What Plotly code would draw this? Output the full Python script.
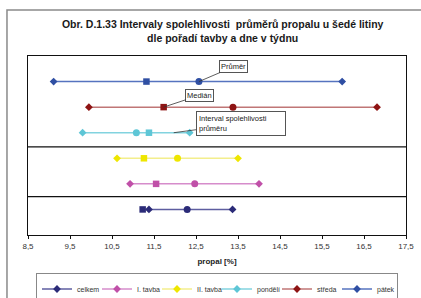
import plotly.graph_objects as go

# ---- data ----
series = ["celkem", "I. tavba", "II. tavba", "pondělí", "středa", "pátek"]
row_pos = [1, 2, 3, 4, 5, 6]
lower = [11.38, 10.93, 10.62, 9.80, 9.95, 9.11]
upper = [13.37, 14.00, 13.50, 12.35, 16.81, 15.98]
mean_vals = [12.29, 12.47, 12.06, 11.08, 13.38, 12.57]
median_vals = [11.23, 11.55, 11.26, 11.38, 11.73, 11.32]

marker_colors = ["#2B2B78", "#C050A8", "#EEE600", "#5EC6D6", "#8E1414", "#2F4FA3"]
line_colors = ["#5E5EA0", "#D68CCB", "#F3EE8C", "#82D3DF", "#C07676", "#5673BF"]

x_ticks = [8.5, 9.5, 10.5, 11.5, 12.5, 13.5, 14.5, 15.5, 16.5, 17.5]
x_tick_labels = ["8,5", "9,5", "10,5", "11,5", "12,5", "13,5", "14,5", "15,5", "16,5", "17,5"]
separators = [1.5, 3.45]
interval_note_x = 11.97

fig = go.Figure()

for i, name in enumerate(series):
    fig.add_trace(go.Scatter(
        x=[lower[i], upper[i]], y=[row_pos[i], row_pos[i]],
        mode="lines+markers", name=name,
        line=dict(color=line_colors[i], width=1.5),
        marker=dict(symbol="diamond", size=6, color=marker_colors[i]),
        showlegend=True,
    ))
    fig.add_trace(go.Scatter(
        x=[median_vals[i]], y=[row_pos[i]], mode="markers",
        marker=dict(symbol="square", size=6.5, color=marker_colors[i]),
        showlegend=False,
    ))
    fig.add_trace(go.Scatter(
        x=[mean_vals[i]], y=[row_pos[i]], mode="markers",
        marker=dict(symbol="circle", size=7, color=marker_colors[i]),
        showlegend=False,
    ))

shapes = []
for s in separators:
    shapes.append(dict(type="line", xref="paper", yref="y", x0=0, x1=1, y0=s, y1=s,
                       line=dict(color="#111111", width=1.3)))
# outer chart frame
shapes.append(dict(type="rect", xref="paper", yref="paper",
                   x0=-0.0556, x1=1.08, y0=-0.5, y1=1.257,
                   line=dict(color="#8a8a8a", width=1.5), layer="below"))
fig.update_layout(shapes=shapes)

ann_font = dict(family="Liberation Sans, Arial, sans-serif", size=7.5, color="#222222")
fig.add_annotation(x=mean_vals[5], y=row_pos[5], text="Průměr", showarrow=True,
                   arrowhead=0, arrowwidth=0.8, arrowcolor="#333333",
                   ax=35, ay=-15, font=ann_font, bgcolor="white",
                   bordercolor="#555555", borderwidth=1, borderpad=1, align="left")
fig.add_annotation(x=median_vals[4], y=row_pos[4], text="Medián", showarrow=True,
                   arrowhead=0, arrowwidth=0.8, arrowcolor="#333333",
                   ax=36, ay=-12, font=ann_font, bgcolor="white",
                   bordercolor="#555555", borderwidth=1, borderpad=1, align="left")
fig.add_annotation(x=interval_note_x, y=row_pos[3], text="Interval spolehlivosti<br>průměru",
                   showarrow=True, arrowhead=0, arrowwidth=0.8, arrowcolor="#333333",
                   ax=67, ay=-9, font=ann_font, bgcolor="white",
                   bordercolor="#555555", borderwidth=1, borderpad=2, align="left",
                   width=84)

fig.update_layout(
    width=421, height=298,
    margin=dict(l=28, r=15, t=56, b=63, autoexpand=False),
    paper_bgcolor="white", plot_bgcolor="white",
    font=dict(family="Liberation Sans, Arial, sans-serif", size=8, color="#333333"),
    title=dict(
        text="<b>Obr. D.1.33 Intervaly spolehlivosti  průměrů propalu u šedé litiny<br>dle pořadí tavby a dne v týdnu</b>",
        x=0.515, xanchor="center", xref="paper",
        y=1 - 28 / 298, yanchor="middle", yref="container",
        font=dict(size=10.5, color="#1a1a1a"),
    ),
    xaxis=dict(
        range=[8.5, 17.5], tickvals=x_ticks, ticktext=x_tick_labels,
        ticks="outside", ticklen=3, tickcolor="#111111", tickwidth=1,
        showline=True, linecolor="#111111", linewidth=1.3, mirror=True,
        showgrid=False, zeroline=False, automargin=False,
        tickfont=dict(size=8, color="#333333"),
        title=dict(text="<b>propal [%]</b>", font=dict(size=8, color="#222222"), standoff=8),
    ),
    yaxis=dict(
        range=[0, 7], showticklabels=False, ticks="",
        showline=True, linecolor="#111111", linewidth=1.3, mirror=True,
        showgrid=False, zeroline=False, automargin=False,
    ),
    legend=dict(
        orientation="h", x=0.5, xanchor="center", y=-0.215, yanchor="top",
        bordercolor="#888888", borderwidth=1, bgcolor="white",
        font=dict(size=7, color="#333333"), traceorder="normal",
        entrywidth=15, entrywidthmode="pixels",
    ),
)

fig.write_html("out.html", config={"displayModeBar": False},
               post_script="document.body.style.margin='0';")
